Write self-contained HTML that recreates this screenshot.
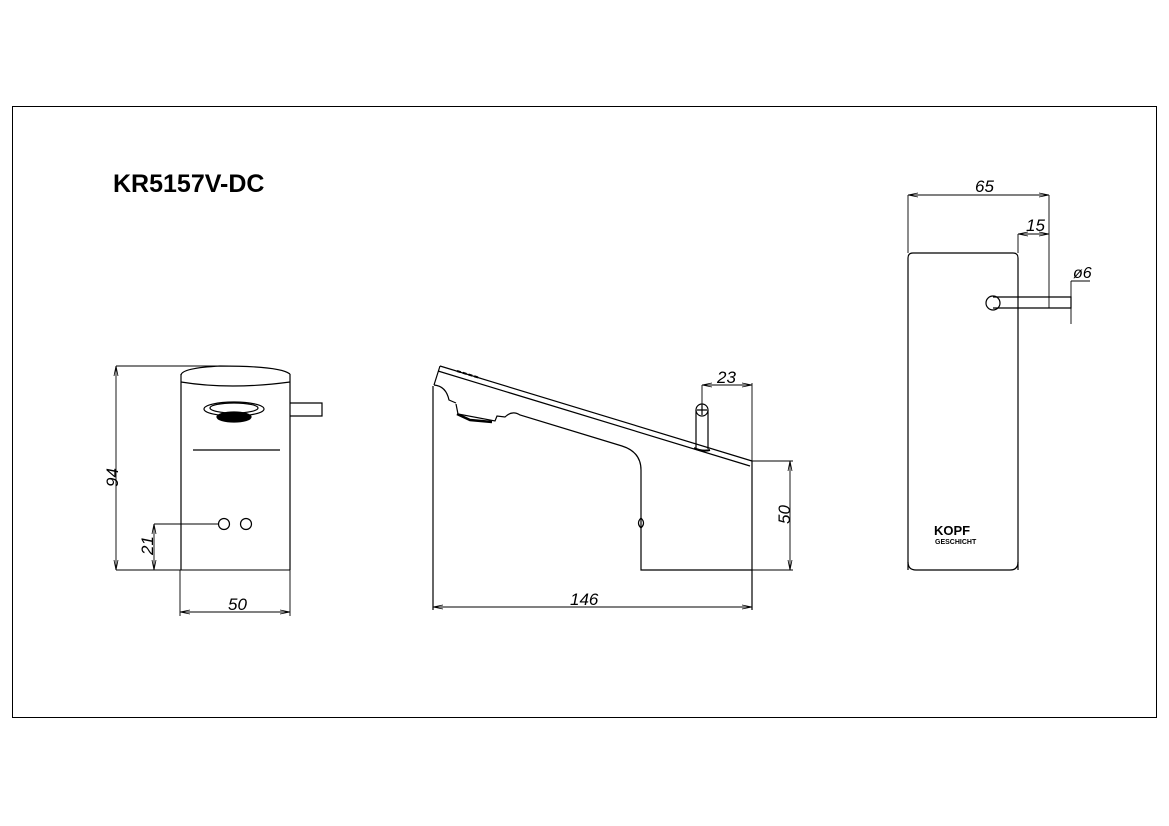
<!DOCTYPE html>
<html><head><meta charset="utf-8"><style>
html,body{margin:0;padding:0;background:#fff;}
svg{display:block;}
text{font-family:"Liberation Sans",sans-serif;font-style:italic;fill:#000;}
</style></head><body>
<svg width="1169" height="826" viewBox="0 0 1169 826" xmlns="http://www.w3.org/2000/svg">
<defs>
<marker id="a" viewBox="0 0 10 6" refX="10" refY="3" markerWidth="10" markerHeight="6" orient="auto-start-reverse" markerUnits="userSpaceOnUse"><path d="M0,1 L10,3 L0,5" fill="none" stroke="#000" stroke-width="0.8"/></marker>
</defs>
<rect x="12.5" y="106.5" width="1144" height="611" fill="none" stroke="#000" stroke-width="1"/>
<text x="113" y="192" style="font-style:normal;font-weight:bold;font-size:25px">KR5157V-DC</text>

<g fill="none" stroke="#000" stroke-width="1.2">
<path d="M181,375 Q182,368 220,366 Q280,366 290,374"/>
<path d="M181,382 Q230,390 290,382"/>
<path d="M181,374 V570 M290,374 V570"/>
<path d="M290,403 H322 V416 H290"/>
<ellipse cx="234" cy="409" rx="30" ry="7"/>
<ellipse cx="234" cy="408" rx="24" ry="5"/>
<ellipse cx="234" cy="417" rx="17" ry="5" fill="#000"/>
<path d="M193,450 H280"/>
<circle cx="224" cy="524" r="5.5"/>
<circle cx="246" cy="524" r="5.5"/>
</g>
<g fill="none" stroke="#000" stroke-width="0.9">
<path d="M116,366 H222 M116,570 H290 M154,524 H219 M180,570 V616 M290,570 V616"/>
<path d="M116,366 V570" marker-start="url(#a)" marker-end="url(#a)"/>
<path d="M154,524 V570" marker-start="url(#a)" marker-end="url(#a)"/>
<path d="M180,612 H290" marker-start="url(#a)" marker-end="url(#a)"/>
</g>
<text x="0" y="0" font-size="17" transform="translate(118,487) rotate(-90)">94</text>
<text x="0" y="0" font-size="17" transform="translate(153,555) rotate(-90)">21</text>
<text x="228" y="610" font-size="17">50</text>

<g fill="none" stroke="#000" stroke-width="1.2">
<path d="M440,366 L752,461 M438,371 L750,466 M440,366 L434,385"/>
<path d="M434,385 Q446,386 449,400 L456,403"/>
<path d="M456,404 L458,414 L495,421 L497,416 L505,417 Q512,410 520,415 L622,446 Q641,452 641,470 V570 H752"/>
<path d="M457,414 L470,420 L492,422" stroke-width="2.5"/>
<path d="M433,386 V610 M752,461 V610"/>
<path d="M641,518 Q636,523 641,528 Q646,523 641,518"/>
<path d="M696,410 V448 M708,410 V449"/>
<circle cx="702" cy="410" r="6"/>
<path d="M697,410 H707 M702,405 V415"/>
<path d="M694,448 Q702,452 710,450" stroke-width="2"/>
<path d="M457,371 L480,378" stroke-width="2" stroke-dasharray="4 2"/>
</g>
<g fill="none" stroke="#000" stroke-width="0.9">
<path d="M702,385 V405 M752,383 V461 M752,461 H793 M752,570 H793"/>
<path d="M702,385 H752" marker-start="url(#a)" marker-end="url(#a)"/>
<path d="M790,461 V570" marker-start="url(#a)" marker-end="url(#a)"/>
<path d="M433,607 H752" marker-start="url(#a)" marker-end="url(#a)"/>
</g>
<text x="717" y="383" font-size="17">23</text>
<text x="0" y="0" font-size="17" transform="translate(790,524) rotate(-90)">50</text>
<text x="570" y="605" font-size="17">146</text>

<g fill="none" stroke="#000" stroke-width="1.2">
<path d="M908,570 V258 Q908,253 913,253 H1013 Q1018,253 1018,258 V570"/>
<path d="M908,562 Q908,570 916,570 H1010 Q1018,570 1018,562"/>
<path d="M993,297 H1071 V308 H993"/>
<circle cx="993" cy="303" r="7"/>
</g>
<g fill="none" stroke="#000" stroke-width="0.9">
<path d="M908,195 V253 M1049,195 V308 M1018,234 V253 M1071,281 V324 M1071,281 H1090"/>
<path d="M908,195 H1049" marker-start="url(#a)" marker-end="url(#a)"/>
<path d="M1018,234 H1049" marker-start="url(#a)" marker-end="url(#a)"/>
</g>
<text x="975" y="192" font-size="17">65</text>
<text x="1026" y="231" font-size="17">15</text>
<text x="1073" y="278" font-size="16">ø6</text>
<text x="934" y="535" style="font-style:normal;font-weight:bold;font-size:13px">KOPF</text>
<text x="935" y="544" style="font-style:normal;font-weight:bold;font-size:7px">GESCHICHT</text>
</svg>
</body></html>
